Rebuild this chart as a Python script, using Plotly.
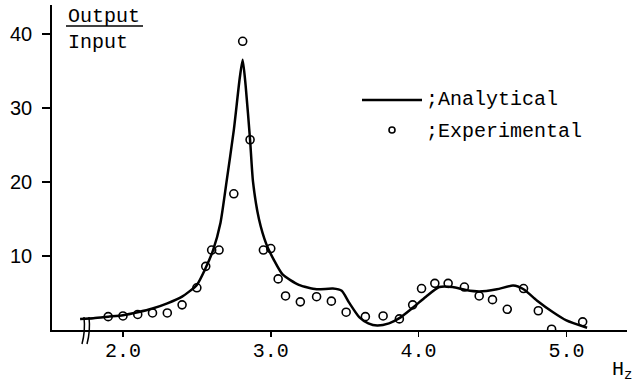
import plotly.graph_objects as go

# ---- data ----
analytical_f = [1.71, 1.80, 1.90, 2.00, 2.10, 2.20, 2.30, 2.40, 2.50, 2.56, 2.61, 2.66,
                2.70, 2.75, 2.79, 2.81, 2.83, 2.86, 2.88, 2.92, 2.97, 3.02, 3.08, 3.19,
                3.31, 3.42, 3.48, 3.53, 3.60, 3.66, 3.72, 3.80, 3.87, 3.96, 4.05, 4.14,
                4.23, 4.32, 4.41, 4.53, 4.64, 4.71, 4.80, 4.91, 5.00, 5.14]
analytical_v = [1.5, 1.6, 1.8, 2.0, 2.4, 2.9, 3.6, 4.5, 6.1, 8.4, 10.8, 14.5,
                19.9, 27.0, 34.0, 36.5, 33.0, 25.7, 20.0, 15.0, 11.6, 9.5, 7.5, 6.1,
                5.5, 5.6, 5.3, 3.7, 1.7, 0.9, 0.6, 0.9, 1.6, 3.0, 4.5, 5.8,
                5.8, 5.4, 5.2, 5.5, 6.0, 5.5, 4.0, 2.4, 1.3, 0.3]

experimental_f = [1.90, 2.00, 2.10, 2.20, 2.30, 2.40, 2.50, 2.56, 2.60, 2.65, 2.75, 2.81,
                  2.86, 2.95, 3.00, 3.05, 3.10, 3.20, 3.31, 3.41, 3.51, 3.64, 3.76, 3.87,
                  3.96, 4.02, 4.11, 4.20, 4.31, 4.41, 4.50, 4.60, 4.71, 4.81, 4.90, 5.11]
experimental_v = [1.8, 1.9, 2.1, 2.3, 2.3, 3.4, 5.7, 8.6, 10.8, 10.8, 18.4, 39.0,
                  25.7, 10.8, 11.0, 6.9, 4.6, 3.8, 4.5, 3.9, 2.4, 1.8, 1.9, 1.5,
                  3.4, 5.6, 6.3, 6.3, 5.8, 4.6, 4.1, 2.8, 5.6, 2.6, 0.1, 1.1]

x_tickvals = [2, 3, 4, 5]
x_ticktext = ["2.0", "3.0", "4.0", "5.0"]
y_tickvals = [10, 20, 30, 40]
y_ticktext = ["10", "20", "30", "40"]

# ---- layout geometry ----
W, H = 633, 390
L, R, T, B = 52, 6, 5, 60
PW, PH = W - L - R, H - T - B
MONO = "Liberation Mono"
SANS = "Liberation Sans"


def px(x):
    return (x - L) / PW


def py(y):
    return (H - B - y) / PH


fig = go.Figure()
fig.add_trace(go.Scatter(
    x=analytical_f, y=analytical_v, mode="lines",
    line=dict(color="black", width=2.5, shape="spline", smoothing=0.6),
    name=";Analytical", hoverinfo="skip"))
fig.add_trace(go.Scatter(
    x=experimental_f, y=experimental_v, mode="markers",
    marker=dict(symbol="circle-open", size=8, color="black", line=dict(width=1.6)),
    name=";Experimental", hoverinfo="skip"))

shapes = []
# fraction bar of Output/Input
shapes.append(dict(type="line", xref="paper", yref="paper",
                   x0=px(66), x1=px(143), y0=py(26), y1=py(26),
                   line=dict(color="black", width=1.5)))
# legend line
shapes.append(dict(type="line", xref="paper", yref="paper",
                   x0=px(362), x1=px(422), y0=py(100), y1=py(100),
                   line=dict(color="black", width=2.5)))
# legend marker
shapes.append(dict(type="circle", xref="paper", yref="paper",
                   x0=px(389), x1=px(395), y0=py(133), y1=py(127),
                   line=dict(color="black", width=1.6)))
# axis break marks
for dx in (0, 5):
    x1, x2 = 84 + dx, 82 + dx
    path = "M{},{} Q{},{} {},{}".format(px(x1), py(317), px(x1 + 1.5), py(331),
                                        px(x2), py(344))
    shapes.append(dict(type="path", xref="paper", yref="paper", path=path,
                       line=dict(color="black", width=1.5)))


def label(text, x, y, size, anchor="left"):
    return dict(text=text, x=px(x), y=py(y), xref="paper", yref="paper",
                xanchor=anchor, yanchor="middle", showarrow=False, borderpad=0,
                font=dict(family=MONO, size=size, color="black"))


annotations = [
    label("Output", 67, 16, 20),
    label("Input", 67, 43, 20),
    label(";Analytical", 425, 100, 20),
    label(";Experimental", 425, 131, 20),
    label("H<sub>z</sub>", 611, 371, 20),
]

fig.update_layout(
    template="none",
    width=W, height=H, margin=dict(l=L, r=R, t=T, b=B, autoexpand=False),
    paper_bgcolor="white", plot_bgcolor="white", showlegend=False,
    shapes=shapes, annotations=annotations,
    xaxis=dict(range=[1.52, 5.41], showline=True, linecolor="black", linewidth=1.8,
               ticks="outside", ticklen=5, tickwidth=1.5, tickcolor="black",
               tickvals=x_tickvals, ticktext=x_ticktext, ticklabelstandoff=-4,
               tickfont=dict(family=MONO, size=20, color="black"), automargin=False,
               showgrid=False, zeroline=False, fixedrange=True),
    yaxis=dict(range=[0, 43.9], showline=True, linecolor="black", linewidth=1.8,
               ticks="outside", ticklen=8, tickwidth=1.5, tickcolor="black",
               tickvals=y_tickvals, ticktext=y_ticktext, ticklabelstandoff=6,
               tickfont=dict(family=SANS, size=20, color="black"), automargin=False,
               showgrid=False, zeroline=False, fixedrange=True),
)

fig.write_html("out.html", config={"staticPlot": True},
               post_script="document.body.style.margin='0';document.body.style.overflow='hidden';")
